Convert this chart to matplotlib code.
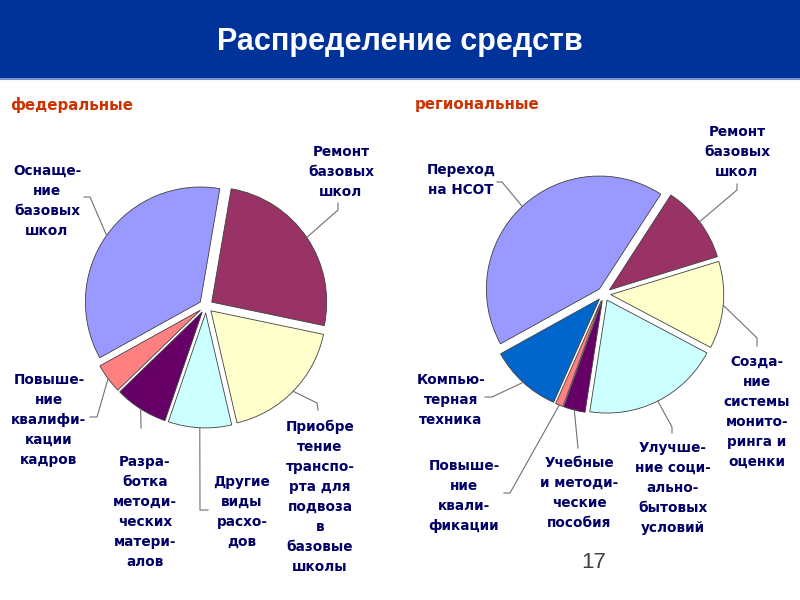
import numpy as np
import matplotlib.pyplot as plt
from matplotlib.patches import Rectangle

plt.rcParams['font.family'] = ['DejaVu Sans']

# federal funds
fed_labels = ['Оснаще-\nние\nбазовых\nшкол',
              'Ремонт\nбазовых\nшкол',
              'Приобре\nтение\nтранспо-\nрта для\nподвоза\nв\nбазовые\nшколы',
              'Другие\nвиды\nрасхо-\nдов',
              'Разра-\nботка\nметоди-\nческих\nматери-\nалов',
              'Повыше-\nние\nквалифи-\nкации\nкадров']
fed_values = [35.8, 25.6, 18.1, 8.9, 7.5, 4.2]
fed_colors = ['#9999FF', '#993366', '#FFFFCC', '#CCFFFF', '#660066', '#FF8080']

# regional funds
reg_labels = ['Переход\nна НСОТ',
              'Ремонт\nбазовых\nшкол',
              'Созда-\nние\nсистемы\nмонито-\nринга и\nоценки',
              'Улучше-\nние соци-\nально-\nбытовых\nусловий',
              'Учебные\nи методи-\nческие\nпособия',
              'Повыше-\nние\nквали-\nфикации',
              'Компью-\nтерная\nтехника']
reg_values = [42.2, 11.1, 12.5, 19.7, 3.1, 1.1, 10.3]
reg_colors = ['#9999FF', '#993366', '#FFFFCC', '#CCFFFF', '#660066', '#FF8080', '#0066CC']

H = 600  # figure height in px, layout below is given from the top


def flip(x, y):
    return x, H - y


def draw_pie(ax, values, colors, labels, center, radius, text_pos, leaders):
    # explode is in data units (px here), not a fraction of the radius
    wedges, _ = ax.pie(values, colors=colors, startangle=209, counterclock=False,
                       explode=[0.06 * radius] * len(values), radius=radius,
                       center=flip(*center), frame=True,
                       wedgeprops=dict(edgecolor='#404040', linewidth=0.6))
    for w, lab, tp, path in zip(wedges, labels, text_pos, leaders):
        mid = np.deg2rad((w.theta1 + w.theta2) / 2)
        cx, cy = w.center
        xs = [cx + w.r * np.cos(mid)]
        ys = [cy + w.r * np.sin(mid)]
        for px, py in path:
            xs.append(px)
            ys.append(H - py)
        ax.plot(xs, ys, color='#707070', lw=0.8)
        ax.text(*flip(*tp), lab, ha='center', va='center', multialignment='center',
                fontsize=9.8, fontweight='bold', color='#000066', linespacing=1.55)


fig = plt.figure(figsize=(8, 6), dpi=100)
ax = fig.add_axes([0, 0, 1, 1])

# header band
ax.add_patch(Rectangle((0, H - 78), 800, 78, color='#003399', zorder=0))
ax.plot([0, 800], [H - 79, H - 79], color='#7A93CC', lw=1.5)
ax.text(400, H - 42, 'Распределение средств', ha='center', va='center',
        color='white', fontsize=22, fontweight='bold', family=['Liberation Sans', 'DejaVu Sans'])

ax.text(10, H - 105, 'федеральные', ha='left', va='center', color='#CC3300',
        fontsize=10.8, fontweight='bold')
ax.text(415, H - 105, 'региональные', ha='left', va='center', color='#CC3300',
        fontsize=10.8, fontweight='bold')

fed_text = [(47, 201), (341, 172), (320, 497), (242, 512), (145, 512), (49, 420)]
fed_lead = [[(90, 197), (84, 197)],
            [(338, 210), (338, 203)],
            [(317, 403), (318, 410)],
            [(200, 510), (208, 510)],
            [(141, 428)],
            [(97, 417), (90, 417)]]
draw_pie(ax, fed_values, fed_colors, fed_labels, (206, 306), 115, fed_text, fed_lead)

reg_text = [(461, 180), (737, 152), (757, 412), (673, 488), (579, 493), (464, 496), (451, 400)]
reg_lead = [[(502, 182), (497, 182)],
            [(737, 190), (737, 184)],
            [(757, 338), (757, 346)],
            [(672, 427), (672, 433)],
            [(578, 448)],
            [(510, 493), (504, 493)],
            [(492, 397), (485, 397)]]
draw_pie(ax, reg_values, reg_colors, reg_labels, (604, 294), 113, reg_text, reg_lead)

ax.text(594, H - 562, '17', ha='center', va='center', color='#404040',
        fontsize=16, family=['Liberation Sans', 'DejaVu Sans'])

ax.set_xlim(0, 800)
ax.set_ylim(0, H)
ax.set_aspect('equal')
ax.axis('off')

fig.savefig('out.png', dpi=100)
